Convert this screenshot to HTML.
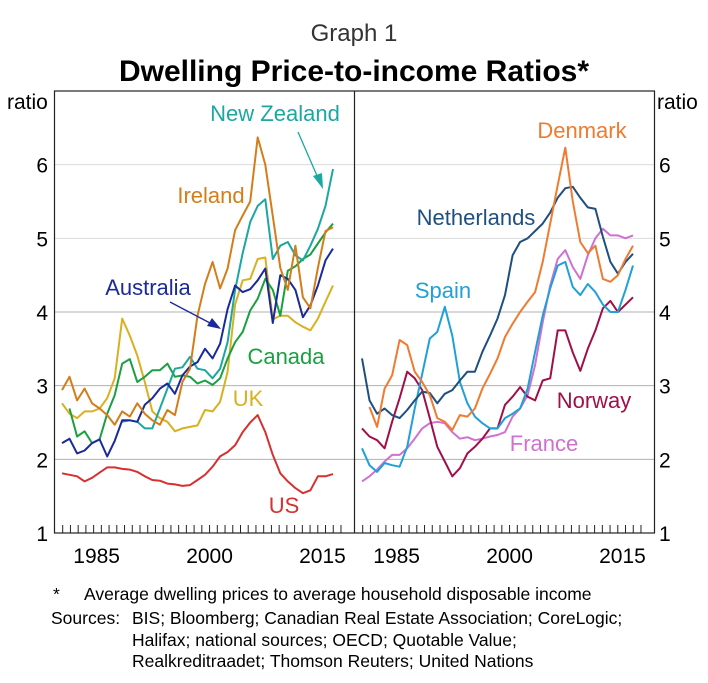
<!DOCTYPE html>
<html><head><meta charset="utf-8"><style>
body{margin:0;background:#fff;width:708px;height:678px;overflow:hidden;font-family:"Liberation Sans",Arial,sans-serif}
svg text{font-family:"Liberation Sans",Arial,sans-serif}
</style></head><body>
<svg id="chart" width="708" height="678" viewBox="0 0 708 678" xmlns="http://www.w3.org/2000/svg">
<text x="354" y="41" font-size="24" text-anchor="middle" fill="#333">Graph 1</text>
<text x="354" y="81" font-size="30" font-weight="bold" text-anchor="middle" fill="#000">Dwelling Price-to-income Ratios*</text>
<text x="7" y="109" font-size="21" fill="#000">ratio</text>
<text x="657" y="109" font-size="21" fill="#000">ratio</text>
<g id="grid"></g>
<g id="series"></g>
<g id="axes"></g>
<g id="labels" font-size="22">
<text x="275" y="121" text-anchor="middle" fill="#1aa8a0">New Zealand</text>
<text x="211" y="203" text-anchor="middle" fill="#d47d1a">Ireland</text>
<text x="148" y="295" text-anchor="middle" fill="#1a2a9a">Australia</text>
<text x="286" y="364" text-anchor="middle" fill="#1aa040">Canada</text>
<text x="248" y="406" text-anchor="middle" fill="#d9b020">UK</text>
<text x="284" y="513" text-anchor="middle" fill="#d83030">US</text>
<text x="582" y="138" text-anchor="middle" fill="#f07a30">Denmark</text>
<text x="476" y="225" text-anchor="middle" fill="#1f4f7f">Netherlands</text>
<text x="443" y="298" text-anchor="middle" fill="#20a0d8">Spain</text>
<text x="594" y="408" text-anchor="middle" fill="#a01048">Norway</text>
<text x="544" y="451" text-anchor="middle" fill="#d070d0">France</text>
</g>
<g stroke="#1aa8a0" fill="#1aa8a0">
<line x1="298" y1="132" x2="318" y2="178" stroke-width="1.3"/>
<polygon points="323,189 313,176 322,173" stroke="none"/>
</g>
<g stroke="#1a2a9a" fill="#1a2a9a">
<line x1="170" y1="302" x2="210" y2="323" stroke-width="1.3"/>
<polygon points="221,329 207,326 212,318" stroke="none"/>
</g>
<g font-size="17.5" fill="#000">
<text x="53" y="600">*</text>
<text x="84" y="600">Average dwelling prices to average household disposable income</text>
<text x="51" y="624">Sources:</text>
<text x="132" y="624">BIS; Bloomberg; Canadian Real Estate Association; CoreLogic;</text>
<text x="132" y="646">Halifax; national sources; OECD; Quotable Value;</text>
<text x="132" y="667">Realkreditraadet; Thomson Reuters; United Nations</text>
</g>
</svg>
<script>
const years = [1980,1981,1982,1983,1984,1985,1986,1987,1988,1989,1990,1991,1992,1993,1994,1995,1996,1997,1998,1999,2000,2001,2002,2003,2004,2005,2006,2007,2008,2009,2010,2011,2012,2013,2014,2015,2016];
const yTicks = [1,2,3,4,5,6];
const xTickLabels = [1985,2000,2015];
const us = [1.81,1.79,1.77,1.70,1.75,1.82,1.89,1.89,1.87,1.86,1.83,1.77,1.72,1.71,1.67,1.66,1.64,1.65,1.72,1.79,1.90,2.04,2.10,2.19,2.37,2.50,2.60,2.37,2.06,1.81,1.70,1.61,1.54,1.58,1.77,1.77,1.80];
const ireland = [2.94,3.12,2.80,2.96,2.76,2.69,2.60,2.47,2.65,2.58,2.76,2.62,2.53,2.47,2.67,2.60,3.05,3.23,3.95,4.38,4.68,4.32,4.59,5.11,5.31,5.50,6.37,6.00,5.30,4.60,4.30,4.90,4.20,4.05,4.60,5.10,5.15];
const newZealand = [null,null,null,null,null,null,null,null,2.51,2.53,2.51,2.42,2.42,2.69,2.96,3.23,3.25,3.39,3.23,3.21,3.10,3.23,3.59,4.30,4.80,5.22,5.44,5.53,4.72,4.90,4.95,4.77,4.70,4.90,5.13,5.44,5.94];
const canada = [null,2.69,2.31,2.38,2.22,2.27,2.62,2.87,3.30,3.36,3.05,3.12,3.21,3.21,3.30,3.12,3.14,3.12,3.03,3.07,3.01,3.10,3.37,3.59,3.73,4.02,4.18,4.45,4.30,3.95,4.56,4.62,4.72,4.78,4.93,5.08,5.20];
const australia = [2.22,2.28,2.08,2.12,2.22,2.27,2.04,2.25,2.53,2.53,2.51,2.74,2.83,2.96,3.03,2.89,3.14,3.26,3.32,3.50,3.37,3.57,4.04,4.36,4.27,4.31,4.43,4.59,3.85,4.50,4.45,4.30,3.93,4.09,4.36,4.70,4.86];
const uk = [2.76,2.62,2.56,2.65,2.65,2.69,2.83,3.10,3.91,3.68,3.41,3.05,2.65,2.56,2.51,2.38,2.42,2.44,2.46,2.67,2.65,2.78,3.19,4.10,4.43,4.45,4.72,4.74,3.90,3.95,3.95,3.86,3.80,3.75,3.91,4.14,4.36];
const netherlands = [3.37,2.80,2.62,2.69,2.60,2.56,2.67,2.80,2.92,2.90,2.76,2.89,2.94,3.07,3.19,3.19,3.46,3.68,3.91,4.23,4.77,4.95,5.00,5.10,5.20,5.35,5.55,5.68,5.70,5.55,5.42,5.40,5.02,4.68,4.52,4.68,4.79];
const denmark = [null,2.71,2.44,2.96,3.14,3.62,3.55,3.19,3.05,2.87,2.56,2.51,2.40,2.60,2.58,2.69,2.96,3.16,3.37,3.66,3.84,4.00,4.14,4.27,4.68,5.20,5.72,6.23,5.50,4.95,4.80,4.90,4.45,4.41,4.50,4.72,4.90];
const spain = [2.15,1.92,1.83,1.95,1.92,1.90,2.17,2.69,3.16,3.64,3.73,4.07,3.68,3.05,2.76,2.58,2.49,2.42,2.42,2.56,2.62,2.69,2.96,3.46,3.95,4.32,4.63,4.68,4.34,4.23,4.38,4.27,4.10,4.00,4.00,4.30,4.63];
const france = [1.70,1.77,1.86,1.97,2.06,2.06,2.15,2.28,2.42,2.49,2.51,2.49,2.37,2.28,2.30,2.26,2.28,2.31,2.33,2.37,2.58,2.69,2.87,3.28,3.86,4.36,4.72,4.84,4.61,4.45,4.77,5.00,5.13,5.04,5.04,5.00,5.04];
const norway = [2.42,2.31,2.26,2.15,2.51,2.83,3.19,3.10,2.94,2.56,2.17,1.97,1.77,1.88,2.08,2.17,2.28,2.42,2.42,2.74,2.85,2.98,2.85,2.80,3.07,3.10,3.75,3.75,3.45,3.20,3.50,3.75,4.05,4.15,4.00,4.10,4.20];

const NS='http://www.w3.org/2000/svg';
const PL=54.5, PM=354.5, PR=654.5, PT=91, PB=533;
function yScale(v){return PB-(v-1)*(PB-PT)/6;}
function xScale(yr,panel){return 62+panel*300+(yr-years[0])*(271/(years[years.length-1]-years[0]));}
function mk(tag,parent){const e=document.createElementNS(NS,tag);parent.appendChild(e);return e;}
const grid=document.getElementById('grid'), axes=document.getElementById('axes'), sg=document.getElementById('series');
yTicks.forEach(v=>{
  if(v>1){
    const l=mk('line',grid);
    
    
    l.setAttribute('x1',PL);l.setAttribute('x2',PR);l.setAttribute('y1',yScale(v));l.setAttribute('y2',yScale(v));
    l.setAttribute('stroke',v>=5?'#dcdcdc':'#b0b0b0');l.setAttribute('stroke-width','1');
  }
  const t1=mk('text',axes);
  
  
  t1.setAttribute('x',48);t1.setAttribute('y',yScale(v)+8);t1.setAttribute('text-anchor','end');t1.setAttribute('font-size','21');t1.textContent=v;
  const t2=mk('text',axes);
  
  
  t2.setAttribute('x',659);t2.setAttribute('y',yScale(v)+8);t2.setAttribute('font-size','21');t2.textContent=v;
});
[0,1].forEach(p=>{
  for(let k=0;k<37;k++){
    const x=62.7+p*300+k*7.73;
    const l=mk('line',axes);
    
    
    l.setAttribute('x1',x);l.setAttribute('x2',x);l.setAttribute('y1',PB-8);l.setAttribute('y2',PB);
    l.setAttribute('stroke','#222');l.setAttribute('stroke-width','1');
  }
  xTickLabels.forEach(yr=>{
    const t=mk('text',axes);
    
    
    t.setAttribute('x',xScale(yr,p)-3);t.setAttribute('y',563);t.setAttribute('text-anchor','middle');t.setAttribute('font-size','21');t.textContent=yr;
  });
});
const frame=mk('rect',axes);


frame.setAttribute('x',PL);frame.setAttribute('y',PT);frame.setAttribute('width',PR-PL);frame.setAttribute('height',PB-PT);
frame.setAttribute('fill','none');frame.setAttribute('stroke','#222');frame.setAttribute('stroke-width','1.2');
const div=mk('line',axes);


div.setAttribute('x1',PM);div.setAttribute('x2',PM);div.setAttribute('y1',PT);div.setAttribute('y2',PB);div.setAttribute('stroke','#222');div.setAttribute('stroke-width','1.2');
function draw(vals,panel,color,name){
  let d='';let pen=false;
  vals.forEach((v,i)=>{
    if(v==null){pen=false;return;}
    d+=(pen?'L':'M')+xScale(years[i],panel).toFixed(1)+','+yScale(v).toFixed(1);pen=true;
  });
  const p=mk('path',sg);
  
  
  p.setAttribute('d',d);p.setAttribute('fill','none');p.setAttribute('stroke',color);p.setAttribute('stroke-width','2');p.setAttribute('stroke-linejoin','round');
}
draw(us,0,'#d83030','line-us');
draw(uk,0,'#d9b020','line-uk');
draw(canada,0,'#1aa040','line-canada');
draw(newZealand,0,'#1aa8a0','line-new-zealand');
draw(australia,0,'#1a2a9a','line-australia');
draw(ireland,0,'#d47d1a','line-ireland');
draw(france,1,'#d070d0','line-france');
draw(norway,1,'#a01048','line-norway');
draw(spain,1,'#20a0d8','line-spain');
draw(netherlands,1,'#1f4f7f','line-netherlands');
draw(denmark,1,'#f07a30','line-denmark');
</script>
</body></html>
